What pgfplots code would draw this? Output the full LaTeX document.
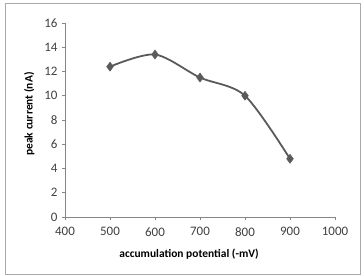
\documentclass[border=0pt]{standalone}
\usepackage{pgfplots}
\pgfplotsset{compat=1.18}
\usepackage{fontspec}
\setmainfont{Carlito}
\definecolor{axgray}{HTML}{868686}
\definecolor{linegray}{HTML}{5A5A5A}
\definecolor{txt}{HTML}{404040}
\begin{document}
\begin{tikzpicture}
\begin{axis}[
  scale only axis,
  width=270bp, height=194bp,
  xmin=400, xmax=1000, ymin=0, ymax=16,
  xtick={400,500,...,1000},
  ytick={0,2,...,16},
  axis x line*=bottom, axis y line*=left,
  axis line style={axgray, line width=0.6pt},
  tick style={axgray, line width=0.6pt},
  tick align=outside,
  major tick length=3pt,
  x axis line style={-}, y axis line style={-},
  tick label style={font=\fontsize{13}{15}\selectfont, text=txt},
  xticklabel style={yshift=-4pt},
  yticklabel style={xshift=-1pt},
  /pgf/number format/assume math mode=true,
  /pgf/number format/1000 sep={},
  xlabel={\textbf{accumulation potential (-mV)}},
  ylabel={\textbf{peak current (nA)}},
  label style={font=\fontsize{11.5}{13}\selectfont, text=black},
  xlabel style={yshift=-6pt, xshift=-11bp},
  ylabel style={yshift=3pt, xshift=6bp},
  clip=false,
]
\addplot[linegray, line width=1.8pt, smooth, tension=0.5, mark=diamond*,
  mark size=4.5pt, mark options={fill=linegray, draw=linegray, line width=0.5pt}]
  coordinates {(500,12.4) (600,13.4) (700,11.5) (800,10.0) (900,4.8)};
\end{axis}
\draw[axgray!70, line width=1pt] ([xshift=-60bp,yshift=-57bp]current axis.south west) rectangle ([xshift=25bp,yshift=20bp]current axis.north east);
\path ([xshift=-65bp,yshift=-58bp]current axis.south west) rectangle ([xshift=29bp,yshift=23bp]current axis.north east);
\end{tikzpicture}
\end{document}
